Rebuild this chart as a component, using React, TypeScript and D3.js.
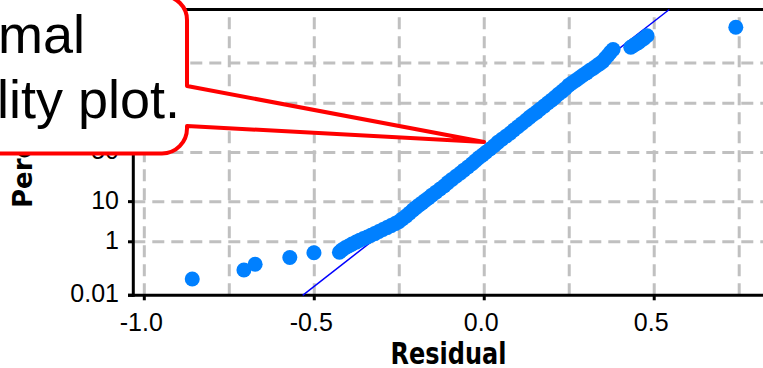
import React, { useEffect } from "react";
import * as d3 from "d3";

// ---- data ----
const residuals = [
  -0.859, -0.707, -0.674, -0.572, -0.501, -0.426, -0.419, -0.41, -0.399, -0.389,
  -0.377, -0.366, -0.355, -0.344, -0.333, -0.322, -0.31, -0.298, -0.286, -0.274,
  -0.262, -0.251, -0.241, -0.23, -0.22, -0.21, -0.201, -0.192, -0.183, -0.174,
  -0.164, -0.154, -0.142, -0.13, -0.118, -0.107, -0.095, -0.083, -0.071, -0.06,
  -0.048, -0.036, -0.026, -0.016, -0.005, 0.005, 0.017, 0.029, 0.04, 0.052,
  0.064, 0.076, 0.087, 0.099, 0.111, 0.123, 0.133, 0.143, 0.154, 0.164,
  0.176, 0.187, 0.198, 0.208, 0.218, 0.229, 0.239, 0.249, 0.259, 0.27,
  0.28, 0.29, 0.301, 0.311, 0.321, 0.331, 0.34, 0.349, 0.356, 0.364,
  0.371, 0.379, 0.431, 0.439, 0.446, 0.454, 0.461, 0.47, 0.479, 0.74,
];
const percents = [
  0.049, 0.11, 0.18, 0.31, 0.45, 0.47, 0.55, 0.64, 0.74, 0.85,
  0.98, 1.12, 1.25, 1.38, 1.55, 1.73, 1.97, 2.23, 2.52, 2.84,
  3.19, 3.59, 4.17, 4.87, 5.7, 6.66, 7.54, 8.5, 9.43, 10.5,
  11.8, 13.3, 15.05, 17.0, 19.1, 21.6, 24.1, 26.8, 29.4, 32.2,
  35.2, 38.4, 41.4, 44.5, 47.3, 50.2, 53.5, 56.9, 60.3, 63.4,
  66.3, 69.1, 72.0, 74.8, 77.4, 79.9, 81.9, 83.6, 85.3, 86.9,
  88.6, 90.1, 91.3, 92.4, 93.5, 94.4, 95.2, 96.0, 96.5, 97.0,
  97.4, 97.76, 98.08, 98.37, 98.58, 98.79, 98.96, 99.11, 99.28, 99.42,
  99.54, 99.63, 99.69, 99.73, 99.76, 99.79, 99.82, 99.85, 99.88, 99.944,
];
const fitMean = 0.005;
const fitSigma = 0.145;

const xMajorTicks = [-1.0, -0.5, 0.0, 0.5];
const xTickLabels = ["-1.0", "-0.5", "0.0", "0.5"];
const xGridValues = [-1.0, -0.75, -0.5, -0.25, 0.0, 0.25, 0.5, 0.75];
const yTickValues = [0.01, 1, 10, 50, 90, 99, 99.99];
const yTickLabels = ["0.01", "1", "10", "50", "90", "99", "99.99"];
const yGridValues = [1, 10, 50, 90, 99];
const xTitle = "Residual";
const yTitle = "Percent";
const calloutLines = ["This is a normal", "probability plot."];

// inverse standard normal CDF (Acklam)
function probit(p: number): number {
  const a = [-3.969683028665376e1, 2.209460984245205e2, -2.759285104469687e2, 1.38357751867269e2, -3.066479806614716e1, 2.506628277459239];
  const b = [-5.447609879822406e1, 1.615858368580409e2, -1.556989798598866e2, 6.680131188771972e1, -1.328068155288572e1];
  const c = [-7.784894002430293e-3, -3.223964580411365e-1, -2.400758277161838, -2.549732539343734, 4.374664141464968, 2.938163982698783];
  const d = [7.784695709041462e-3, 3.224671290700398e-1, 2.445134137142996, 3.754408661907416];
  const plow = 0.02425;
  if (p < plow) {
    const q = Math.sqrt(-2 * Math.log(p));
    return (((((c[0] * q + c[1]) * q + c[2]) * q + c[3]) * q + c[4]) * q + c[5]) / ((((d[0] * q + d[1]) * q + d[2]) * q + d[3]) * q + 1);
  }
  if (p <= 1 - plow) {
    const q = p - 0.5;
    const r = q * q;
    return ((((((a[0] * r + a[1]) * r + a[2]) * r + a[3]) * r + a[4]) * r + a[5]) * q) / (((((b[0] * r + b[1]) * r + b[2]) * r + b[3]) * r + b[4]) * r + 1);
  }
  const q = Math.sqrt(-2 * Math.log(1 - p));
  return -(((((c[0] * q + c[1]) * q + c[2]) * q + c[3]) * q + c[4]) * q + c[5]) / ((((d[0] * q + d[1]) * q + d[2]) * q + d[3]) * q + 1);
}

const W = 763;
const H = 368;
const left = 133.3;
const right = 763;
const top = 9.5;
const bottom = 295.3;

const xScale = d3.scaleLinear().domain([-1.0324, 0.82]).range([left, right]);
const zScale = d3.scaleLinear().domain([probit(0.0001), probit(0.9999)]).range([bottom, top]);
const yScale = (pct: number) => zScale(probit(pct / 100));

const FONT = "'Liberation Sans', Arial, sans-serif";
const BOLDFONT = "'DejaVu Sans', Verdana, sans-serif";

export default function App() {
  useEffect(() => {
    document.body.style.margin = "0";
  }, []);

  const gridStyle = { stroke: "#c0c0c0", strokeWidth: 3, strokeDasharray: "12,7" };
  const fitLine = d3.line<number>()
    .x((p) => xScale(fitMean + fitSigma * probit(p / 100)))
    .y((p) => yScale(p));

  const tipX = 484;
  const tipY = 142;
  const boxR = 187;
  const calloutPath = `M -400 -4 H ${boxR - 24} A 24 24 0 0 1 ${boxR} 20 V 86 L ${tipX} ${tipY} L ${boxR} 126 V 128.5 A 25 25 0 0 1 ${boxR - 25} 153.5 H -400 Z`;

  return (
    <svg width={W} height={H} style={{ position: "absolute", left: 0, top: 0, background: "#fff" }}>
      <rect x={0} y={0} width={W} height={H} fill="#fff" />
      {/* gridlines */}
      {xGridValues.map((v) => (
        <line key={"gx" + v} x1={xScale(v)} x2={xScale(v)} y1={bottom} y2={top} style={gridStyle} />
      ))}
      {yGridValues.map((p) => (
        <line key={"gy" + p} x1={left} x2={right} y1={yScale(p)} y2={yScale(p)} style={gridStyle} />
      ))}
      {/* frame / axes */}
      <line x1={left} x2={right} y1={top} y2={top} stroke="#000" strokeWidth={3} />
      <line x1={left} x2={left} y1={top - 1.5} y2={bottom + 1.5} stroke="#000" strokeWidth={3} />
      <line x1={128} x2={right} y1={bottom} y2={bottom} stroke="#000" strokeWidth={3} />
      {yTickValues.map((p) => (
        <line key={"ty" + p} x1={128} x2={left} y1={yScale(p)} y2={yScale(p)} stroke="#000" strokeWidth={3} />
      ))}
      {xMajorTicks.map((v) => (
        <line key={"tx" + v} x1={xScale(v)} x2={xScale(v)} y1={bottom} y2={bottom + 5} stroke="#000" strokeWidth={3} />
      ))}
      {/* reference line */}
      <path d={fitLine([0.01, 99.99]) || ""} stroke="#0000ff" strokeWidth={1.5} fill="none" />
      {/* points */}
      {residuals.map((r, i) => (
        <circle key={"p" + i} cx={xScale(r)} cy={yScale(percents[i])} r={7.5} fill="#0080ff" />
      ))}
      {/* tick labels */}
      {xMajorTicks.map((v, i) => (
        <text key={"lx" + v} x={xScale(v) - 3} y={331} textAnchor="middle" fontFamily={FONT} fontSize={25} fill="#000">
          {xTickLabels[i]}
        </text>
      ))}
      {yTickValues.map((p, i) => (
        <text key={"ly" + p} x={119} y={yScale(p) + 7} textAnchor="end" fontFamily={FONT} fontSize={25} fill="#000">
          {yTickLabels[i]}
        </text>
      ))}
      <text transform="translate(448.5,364) scale(1,1.28)" x={0} y={0} textAnchor="middle" fontFamily={BOLDFONT} fontWeight="bold" fontSize={24} fill="#000">
        {xTitle}
      </text>
      <text transform="translate(32,208) rotate(-90)" textAnchor="start" fontFamily={BOLDFONT} fontWeight="bold" fontSize={26} fill="#000">
        {yTitle}
      </text>
      {/* callout */}
      <path d={calloutPath} fill="#fff" stroke="#ff0000" strokeWidth={4} strokeLinejoin="round" />
      <text x={85} y={53} textAnchor="end" fontFamily={FONT} fontSize={54} fill="#000">
        {calloutLines[0]}
      </text>
      <text x={180} y={118} textAnchor="end" fontFamily={FONT} fontSize={54} fill="#000">
        {calloutLines[1]}
      </text>
    </svg>
  );
}
